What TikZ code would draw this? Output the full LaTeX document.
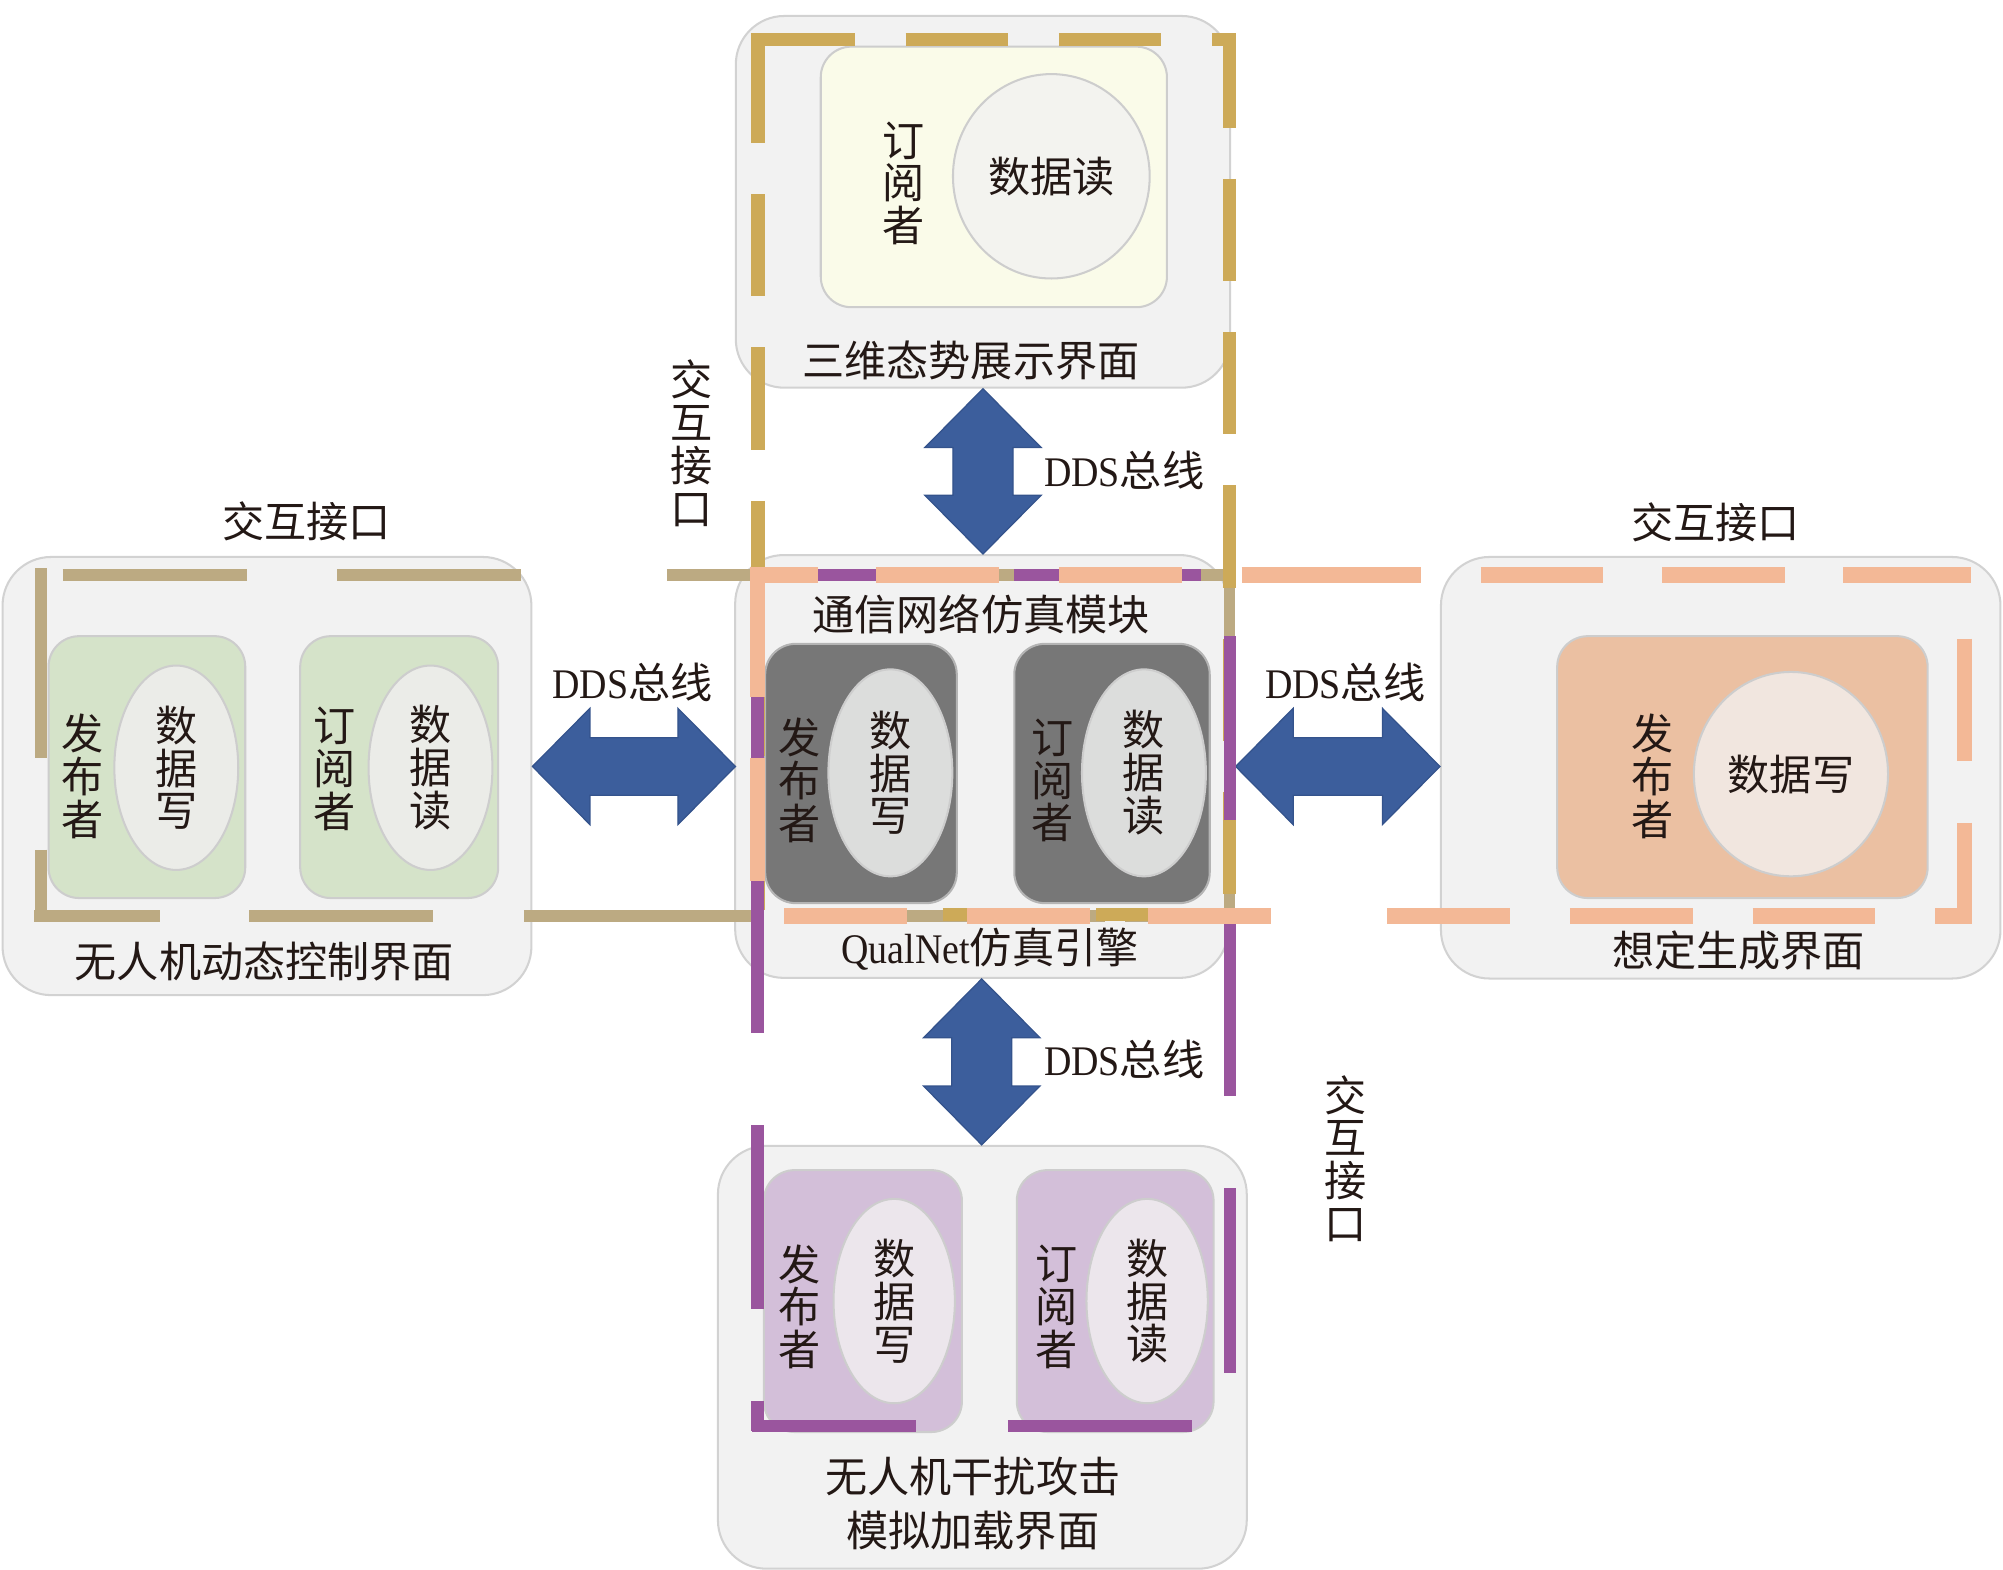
\documentclass[tikz,border=0pt]{standalone}
\usepackage{fontspec}
\setmainfont{Liberation Serif}
\newfontfamily\cjkf{Noto Sans CJK SC}
\newfontfamily\latf[FakeStretch=0.9]{Liberation Serif}
\usetikzlibrary{calc,shapes.geometric}
\definecolor{pfill}{HTML}{F2F2F2}
\definecolor{pborder}{HTML}{D2D2D2}
\definecolor{ibord}{HTML}{CDCDCD}
\definecolor{txt}{HTML}{231815}
\definecolor{yel}{HTML}{FAFBE9}
\definecolor{yelc}{HTML}{F3F3EF}
\definecolor{dgray}{HTML}{777777}
\definecolor{dbord}{HTML}{B4B4B4}
\definecolor{lgray}{HTML}{DCDDDC}
\definecolor{grn}{HTML}{D5E3C9}
\definecolor{grnc}{HTML}{EBECE8}
\definecolor{pch}{HTML}{EBC0A2}
\definecolor{pchc}{HTML}{F1E6DF}
\definecolor{prp}{HTML}{D3BFD9}
\definecolor{prpc}{HTML}{ECE6EC}
\definecolor{arrowblue}{HTML}{3C5E9C}
\definecolor{arrowedge}{HTML}{34538C}
\definecolor{goldl}{HTML}{CDAA58}
\definecolor{tanl}{HTML}{BCAA82}
\definecolor{purl}{HTML}{9A559E}
\definecolor{pchl}{HTML}{F3B896}
\newcommand\vdbl[2]{\draw[blk] (#1) -- ($(#1)+(45.5,46)$) -- ($(#1)+(23.5,46)$) -- ($(#2)+(23.5,-46)$) -- ($(#2)+(45.5,-46)$) -- (#2) -- ($(#2)+(-45.5,-46)$) -- ($(#2)+(-23.5,-46)$) -- ($(#1)+(-23.5,46)$) -- ($(#1)+(-45.5,46)$) -- cycle;}
\newcommand\hdbl[2]{\draw[blk] (#1) -- ($(#1)+(45,-45.5)$) -- ($(#1)+(45,-22.5)$) -- ($(#2)+(-45,-22.5)$) -- ($(#2)+(-45,-45.5)$) -- (#2) -- ($(#2)+(-45,45.5)$) -- ($(#2)+(-45,22.5)$) -- ($(#1)+(45,22.5)$) -- ($(#1)+(45,45.5)$) -- cycle;}
\begin{document}
\begin{tikzpicture}[x=1pt,y=-1pt,
  panel/.style={rectangle, draw=pborder, fill=pfill, line width=1.6pt, rounded corners=38pt, inner sep=0pt},
  inbox/.style={rectangle, draw=ibord, line width=1.6pt, rounded corners=24pt, inner sep=0pt},
  cjk/.style={font=\cjkf\fontsize{33}{33.5}\selectfont, align=center, inner sep=0pt, text=txt},
  oval/.style={ellipse, cjk, draw=ibord, line width=1.6pt, inner sep=0pt},
  blk/.style={fill=arrowblue, draw=arrowedge, line width=1pt, line join=miter},
  tanseg/.style={line width=9pt, tanl},
  goldseg/.style={line width=10.5pt, goldl},
  purseg/.style={line width=9.5pt, purl},
  pchseg/.style={line width=12pt, pchl}]
\useasboundingbox (0,0) rectangle (1568,1229);

% ---------- top panel
\node[panel, minimum width=387, minimum height=291] (pT) at (769.5,158) {};
\node[inbox, fill=yel, minimum width=271, minimum height=204] (tY) at (778,138.5) {};
\node[oval, fill=yelc, minimum width=154, minimum height=160] (tC) at (823,138) {数据读};
\node[cjk] (tS) at (707,143.5) {订\\阅\\者};
\node[cjk] (tL) at (760,282) {三维态势展示界面};

% ---------- middle panel
\node[panel, minimum width=386, minimum height=331] (pM) at (768.5,600) {};
\node[cjk] (mT) at (768,481) {通信网络仿真模块};
\node[inbox, fill=dgray, draw=dbord, minimum width=150, minimum height=203] (mA) at (674,605.5) {};
\node[inbox, fill=dgray, draw=dbord, minimum width=153, minimum height=203] (mB) at (870.5,605.5) {};
\node[oval, fill=lgray, minimum width=97, minimum height=162] (mAe) at (697,605) {数\\据\\写};
\node[oval, fill=lgray, minimum width=97, minimum height=162] (mBe) at (895.5,605) {数\\据\\读};
\node[cjk] (mAs) at (626,611) {发\\布\\者};
\node[cjk] (mBs) at (824,611) {订\\阅\\者};
\node[cjk] (mQ) at (775,743) {{\latf QualNet}仿真引擎};

% ---------- left panel
\node[panel, minimum width=414, minimum height=343] (pL) at (209,607.5) {};
\node[inbox, fill=grn, minimum width=154, minimum height=205] (lA) at (115,600.5) {};
\node[inbox, fill=grn, minimum width=155, minimum height=205] (lB) at (312.5,600.5) {};
\node[oval, fill=grnc, minimum width=97, minimum height=160] (lAe) at (138,601) {数\\据\\写};
\node[oval, fill=grnc, minimum width=97, minimum height=160] (lBe) at (337,601) {数\\据\\读};
\node[cjk] (lAs) at (64.5,608) {发\\布\\者};
\node[cjk] (lBs) at (262,602) {订\\阅\\者};
\node[cjk] (lL) at (207,753) {无人机动态控制界面};
\node[cjk] (lI) at (240,408) {交互接口};

% ---------- right panel
\node[panel, minimum width=438, minimum height=330] (pR) at (1347,601) {};
\node[inbox, fill=pch, minimum width=290, minimum height=205] (rA) at (1364,600.5) {};
\node[oval, fill=pchc, minimum width=152, minimum height=160] (rAe) at (1402,606) {数据写};
\node[cjk] (rAs) at (1294,608) {发\\布\\者};
\node[cjk] (rL) at (1361,744) {想定生成界面};
\node[cjk] (rI) at (1343,409) {交互接口};

% ---------- bottom panel
\node[panel, minimum width=414, minimum height=331] (pB) at (769,1062.5) {};
\node[inbox, fill=prp, minimum width=155, minimum height=205] (bA) at (675.5,1018.5) {};
\node[inbox, fill=prp, minimum width=154, minimum height=205] (bB) at (873,1018.5) {};
\node[oval, fill=prpc, minimum width=95, minimum height=160] (bAe) at (700,1018.5) {数\\据\\写};
\node[oval, fill=prpc, minimum width=95, minimum height=160] (bBe) at (898,1018.5) {数\\据\\读};
\node[cjk] (bAs) at (626,1023) {发\\布\\者};
\node[cjk] (bBs) at (827,1023) {订\\阅\\者};
\node[cjk, font=\cjkf\fontsize{33}{43}\selectfont] (bL) at (761.5,1177) {无人机干扰攻击\\模拟加载界面};

% ---------- vertical interface labels
\node[cjk] (vI1) at (541,347) {交\\互\\接\\口};
\node[cjk] (vI2) at (1053,907) {交\\互\\接\\口};

% ---------- DDS bus arrows
\coordinate (t1) at (pT.south);
\coordinate (t2) at (t1 |- pM.north);
\vdbl{t1}{t2}
\coordinate (b1) at (pM.south);
\coordinate (b2) at (b1 |- pB.north);
\vdbl{b1}{b2}
\coordinate (l1) at (pL.east |- pM.west);
\coordinate (l2) at ($(pM.west)+(1,0)$);
\hdbl{l1}{l2}
\coordinate (r1) at ($(pM.east)+(5,0)$);
\coordinate (r2) at (pR.west |- pM.east);
\hdbl{r1}{r2}
\node[cjk] (d1) at (880,368) {{\latf DDS}总线};
\node[cjk] (d2) at (880,829) {{\latf DDS}总线};
\node[cjk] (d3) at (495,534) {{\latf DDS}总线};
\node[cjk] (d4) at (1053,534) {{\latf DDS}总线};

% ---------- interface dashed frames (tan, gold, purple, peach)
\foreach \a/\b in {49/193,264/408,522/666,737/881,940/967} \draw[tanseg] (\a,450) -- (\b,450);
\foreach \a/\b in {445/593,665/722} {\draw[tanseg] (32,\a) -- (32,\b); \draw[tanseg] (962.5,\a) -- (962.5,\b);}
\foreach \a/\b in {27/125,195/339,410/590,661/865,881/967} \draw[tanseg] (\a,717) -- (\b,717);

\foreach \a/\b in {588/669,709/789,829/909,949/962} \draw[goldseg] (\a,31) -- (\b,31);
\foreach \a/\b in {26/100,140/220,260/340,380/460,500/580,620/700} \draw[goldseg] (962.5,\a) -- (962.5,\b);
\foreach \a/\b in {618/698,738/818,858/938} \draw[goldseg] (\a,716) -- (\b,716);
\foreach \a/\b in {27/112,152/232,272/352,392/472,512/592,632/712} \draw[goldseg] (593.5,\a) -- (593.5,\b);

\foreach \a/\b in {593/722,794/940} \draw[purseg] (\a,450) -- (\b,450);
\foreach \a/\b in {498/642,714/858,930/1075} \draw[purseg] (963,\a) -- (963,\b);
\foreach \a/\b in {588.5/717,789/933} \draw[purseg] (\a,1116) -- (\b,1116);
\foreach \a/\b in {450/593,665/809,881/1025,1097/1120.5} \draw[purseg] (593,\a) -- (593,\b);

\foreach \a/\b in {588/640,686/782,829/925,972/1112,1159/1255,1301/1397,1443/1543} \draw[pchseg] (\a,450) -- (\b,450);
\foreach \a/\b in {500/596,644/723} \draw[pchseg] (1538,\a) -- (1538,\b);
\foreach \a/\b in {614/710,757/853,899/995,1086/1182,1229/1325,1372/1468,1515/1544} \draw[pchseg] (\a,717) -- (\b,717);
\foreach \a/\b in {444/546,593/690} \draw[pchseg] (593,\a) -- (593,\b);
\end{tikzpicture}
\end{document}
